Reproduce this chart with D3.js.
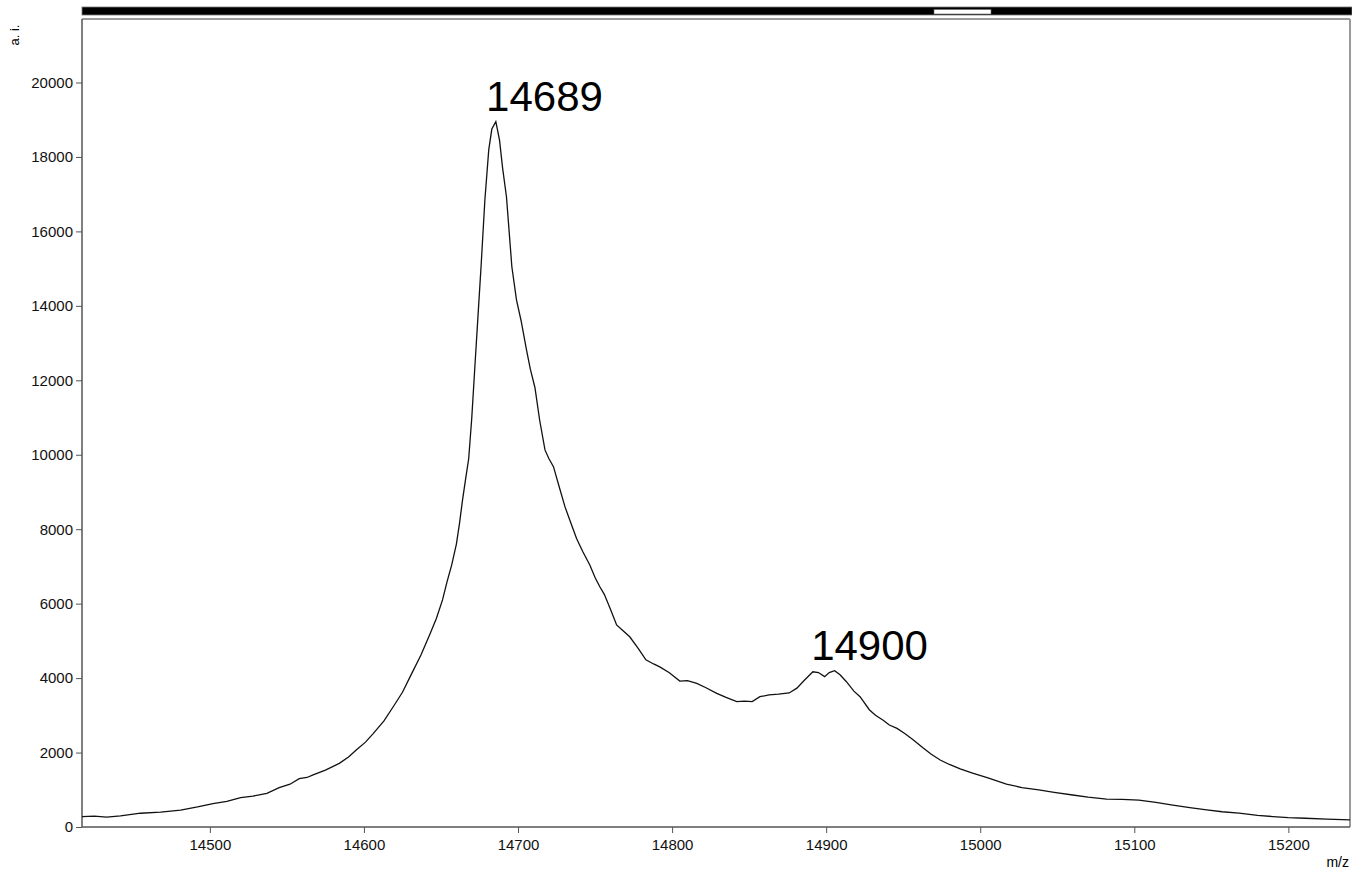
<!DOCTYPE html>
<html>
<head>
<meta charset="utf-8">
<script src="https://cdn.jsdelivr.net/npm/d3@7"></script>
<style>
  body { margin: 0; background: #fff; }
  svg text { font-family: "Liberation Sans", Arial, sans-serif; }
</style>
</head>
<body>
<div id="chart"></div>
<script>
// spectrum values (m/z, intensity)
const mz = [14417, 14425, 14433, 14442, 14455, 14468, 14481, 14492, 14502, 14511,
  14520, 14528, 14537, 14545, 14552, 14558, 14563, 14567, 14575, 14584,
  14590, 14595, 14601, 14606, 14613, 14619, 14625, 14630, 14637, 14643,
  14647, 14651, 14654, 14657, 14660, 14662, 14664, 14666, 14668, 14670,
  14672, 14674, 14676, 14678.5, 14681, 14683, 14685.6, 14688, 14690, 14692.5,
  14696, 14699, 14702, 14705.5, 14708, 14711, 14714, 14717.5, 14720, 14723,
  14727, 14730.5, 14734, 14738, 14742, 14746.6, 14750, 14753, 14756, 14760,
  14764, 14768, 14772.5, 14778, 14783, 14788, 14792, 14798, 14805, 14810,
  14816, 14822, 14829, 14835, 14842, 14847, 14852, 14857, 14863, 14869,
  14876, 14881, 14886, 14891.4, 14895, 14899, 14902, 14905.5, 14909, 14913,
  14918, 14922, 14928, 14932, 14937, 14941, 14946, 14951, 14956, 14963,
  14968, 14974, 14980, 14987, 14995, 15005, 15017, 15027, 15038, 15048,
  15060, 15070, 15082, 15092, 15103, 15114, 15125, 15136, 15147, 15157,
  15168, 15180, 15190, 15200, 15211, 15225, 15240];
const intensity = [280, 290, 265, 300, 370, 400, 455, 540, 630, 690,
  790, 830, 905, 1060, 1150, 1300, 1330, 1400, 1530, 1710,
  1880, 2070, 2280, 2510, 2850, 3230, 3620, 4040, 4620, 5200,
  5600, 6100, 6600, 7050, 7600, 8150, 8790, 9350, 9900, 11000,
  12370, 13710, 15050, 16850, 18190, 18750, 18950, 18450, 17700, 16930,
  15050, 14160, 13600, 12820, 12300, 11800, 10940, 10130, 9900, 9680,
  9100, 8600, 8200, 7750, 7400, 7040, 6700, 6460, 6250, 5850,
  5430, 5280, 5110, 4800, 4490, 4380, 4300, 4150, 3920, 3930,
  3860, 3740, 3590, 3480, 3370, 3380, 3370, 3500, 3550, 3570,
  3600, 3730, 3950, 4170, 4150, 4040, 4150, 4200, 4090, 3910,
  3650, 3500, 3150, 3000, 2870, 2740, 2650, 2510, 2360, 2120,
  1960, 1800, 1680, 1560, 1450, 1320, 1150, 1060, 995, 930,
  860, 800, 750, 740, 720, 660, 590, 520, 460, 410,
  370, 310, 280, 250, 235, 210, 190];

const xTicks = [14500, 14600, 14700, 14800, 14900, 15000, 15100, 15200];
const yTicks = [0, 2000, 4000, 6000, 8000, 10000, 12000, 14000, 16000, 18000, 20000];
const peakLabels = ["14689", "14900"];
const peakMz = [14689, 14900];
const peakHeight = [18950, 4200];

const W = 1352, H = 871;
const plotL = 82, plotR = 1350, plotT = 19, plotB = 827;

const svg = d3.select("#chart").append("svg")
  .attr("width", W).attr("height", H);

const x = d3.scaleLinear().domain([14417, 15240]).range([plotL, plotR]);
const y = d3.scaleLinear().domain([0, 21706]).range([plotB, plotT]);

//top range bar
svg.append("rect")
  .attr("x", plotL).attr("y", 7).attr("width", W - plotL).attr("height", 8)
  .attr("fill", "#000").attr("stroke", "#777").attr("stroke-width", 0.8);
svg.append("rect")
  .attr("x", 934).attr("y", 9.5).attr("width", 57).attr("height", 4.5)
  .attr("fill", "#fff").attr("stroke", "#666").attr("stroke-width", 0.6);

//frame top and right
svg.append("line")
  .attr("x1", plotL).attr("x2", plotR).attr("y1", plotT).attr("y2", plotT)
  .attr("stroke", "#9a9a9a").attr("stroke-width", 2);
svg.append("line")
  .attr("x1", plotR).attr("x2", plotR).attr("y1", plotT).attr("y2", plotB)
  .attr("stroke", "#9a9a9a").attr("stroke-width", 2);

//axes
const yAxis = svg.append("g")
  .attr("transform", `translate(${plotL},0)`)
  .call(d3.axisLeft(y).tickValues(yTicks).tickSize(6).tickPadding(3).tickFormat(d3.format("d")));
const xAxis = svg.append("g")
  .attr("transform", `translate(0,${plotB})`)
  .call(d3.axisBottom(x).tickValues(xTicks).tickSize(6).tickPadding(6).tickFormat(d3.format("d")));

[yAxis, xAxis].forEach(function(g) {
  g.select(".domain").attr("stroke", "#555").attr("stroke-width", 1.5);
  g.selectAll(".tick line").attr("stroke", "#555");
  g.selectAll(".tick text").attr("fill", "#111").style("font-size", "15px");
});
yAxis.select(".domain").attr("d", `M0,${plotT}V${plotB}`);
xAxis.select(".domain").attr("d", `M${plotL},0H${plotR}`);

//axis titles
svg.append("text")
  .attr("transform", "translate(19,35) rotate(-90)")
  .attr("text-anchor", "middle")
  .style("font-size", "13px")
  .text("a. i.");
svg.append("text")
  .attr("x", 1349).attr("y", 867)
  .attr("text-anchor", "end")
  .style("font-size", "14px")
  .text("m/z");

//spectrum trace
const pts = mz.map((d, i) => [d, intensity[i]]);
const line = d3.line().x(d => x(d[0])).y(d => y(d[1]));
svg.append("path")
  .datum(pts)
  .attr("d", line)
  .attr("fill", "none")
  .attr("stroke", "#111")
  .attr("stroke-width", 1.3);

//peak labels
svg.selectAll(".peak")
  .data(peakLabels)
  .enter().append("text")
  .attr("class", "peak")
  .attr("x", (d, i) => x(peakMz[i]) - 15)
  .attr("y", (d, i) => y(peakHeight[i]) - 11)
  .style("font-size", "42px")
  .attr("fill", "#000")
  .text(d => d);
</script>
</body>
</html>
